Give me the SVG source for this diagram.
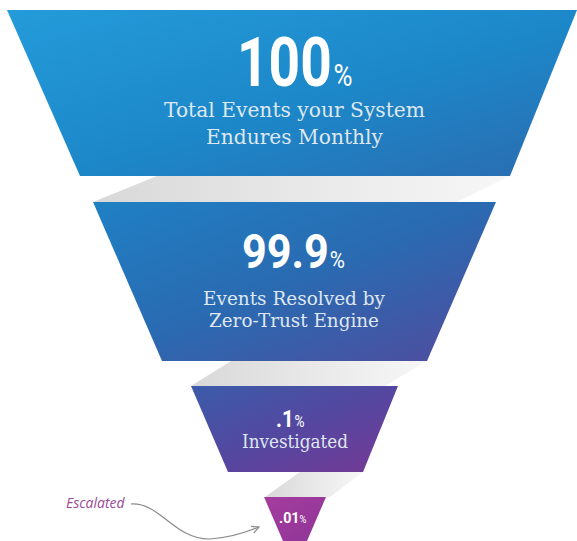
<svg xmlns="http://www.w3.org/2000/svg" width="577" height="541" viewBox="0 0 577 541">
  <defs>
    <linearGradient id="g1" x1="0" y1="0" x2="1" y2="1">
      <stop offset="0" stop-color="#249bda"/>
      <stop offset="0.55" stop-color="#1c87c8"/>
      <stop offset="1" stop-color="#2b6bb0"/>
    </linearGradient>
    <linearGradient id="g2" x1="0" y1="0" x2="1" y2="1">
      <stop offset="0" stop-color="#1f80c4"/>
      <stop offset="0.5" stop-color="#2a6ab1"/>
      <stop offset="1" stop-color="#524a9d"/>
    </linearGradient>
    <linearGradient id="g3" x1="0" y1="0" x2="1" y2="1">
      <stop offset="0" stop-color="#3b5ca9"/>
      <stop offset="0.5" stop-color="#5447a0"/>
      <stop offset="1" stop-color="#763995"/>
    </linearGradient>
    <linearGradient id="g4" x1="0" y1="0" x2="1" y2="1">
      <stop offset="0" stop-color="#a53d9e"/>
      <stop offset="1" stop-color="#8e3598"/>
    </linearGradient>
    <linearGradient id="rib" x1="0" y1="0" x2="1" y2="0">
      <stop offset="0" stop-color="#d8d8d8"/>
      <stop offset="0.5" stop-color="#e8e8e8"/>
      <stop offset="1" stop-color="#f7f7f7"/>
    </linearGradient>
    <marker id="arrow" viewBox="0 0 10 10" refX="9" refY="5" markerWidth="9" markerHeight="9" markerUnits="userSpaceOnUse" orient="auto">
      <path d="M1,1 L9,5 L1,9" fill="none" stroke="#8a8a8a" stroke-width="1.3"/>
    </marker>
    <style>
      .num { font-family: Roboto, "Liberation Sans", sans-serif; font-weight: 700; fill: #ffffff; }
      .pct { font-weight: 400; }
      .sub { font-family: "DejaVu Serif", "Liberation Serif", serif; fill: #dfe7f2; }
      .ribbon { fill: url(#rib); }
      .note { font-family: "Open Sans", "Liberation Sans", sans-serif; font-style: italic; font-size: 14px; fill: #9c4a97; }
    </style>
  </defs>

  <g id="connectors">
    <polygon class="ribbon" points="93,202 157,176 510,176 457,202"/>
    <polygon class="ribbon" points="191,386 231,361 427,361 385,386"/>
    <polygon class="ribbon" points="265,497 300,472 363,472 330,497"/>
    <path d="M131,504 C160,502 175,540 210,539 C230,538 247,532 259,527" fill="none" stroke="#8a8a8a" stroke-width="1.2" marker-end="url(#arrow)"/>
  </g>

  <g id="stage-100">
    <polygon points="7,10 577,10 510,176 80,176" fill="url(#g1)"/>
    <text class="num" transform="translate(237,86) scale(0.81,1)" x="0" y="0" font-size="68">100<tspan class="pct" dx="2" font-size="32">%</tspan></text>
    <text class="sub" x="164" y="117" font-size="21" textLength="261" lengthAdjust="spacingAndGlyphs">Total Events your System</text>
    <text class="sub" x="206" y="144" font-size="21" textLength="177" lengthAdjust="spacingAndGlyphs">Endures Monthly</text>
  </g>

  <g id="stage-99-9">
    <polygon points="93,202 496,202 427,361 162,361" fill="url(#g2)"/>
    <text class="num" transform="translate(242,268) scale(0.9,1)" x="0" y="0" font-size="48">99.9<tspan class="pct" dx="1" font-size="23">%</tspan></text>
    <text class="sub" x="203" y="305" font-size="19" textLength="182" lengthAdjust="spacingAndGlyphs">Events Resolved by</text>
    <text class="sub" x="209" y="327" font-size="19" textLength="170" lengthAdjust="spacingAndGlyphs">Zero-Trust Engine</text>
  </g>

  <g id="stage-0-1">
    <polygon points="191,386 398,386 363,472 228,472" fill="url(#g3)"/>
    <text class="num" transform="translate(276,427) scale(0.85,1)" x="0" y="0" font-size="24">.1<tspan class="pct" dx="1" font-size="16">%</tspan></text>
    <text class="sub" x="242" y="448" font-size="18" textLength="106" lengthAdjust="spacingAndGlyphs">Investigated</text>
  </g>

  <g id="stage-0-01">
    <polygon points="264,497 326,497 307,541 283,541" fill="url(#g4)"/>
    <text class="num" transform="translate(279,523) scale(0.95,1)" x="0" y="0" font-size="15">.01<tspan class="pct" font-size="10">%</tspan></text>
  </g>

  <g id="label-escalated">
    <text class="note" x="66" y="508">Escalated</text>
  </g>
</svg>
